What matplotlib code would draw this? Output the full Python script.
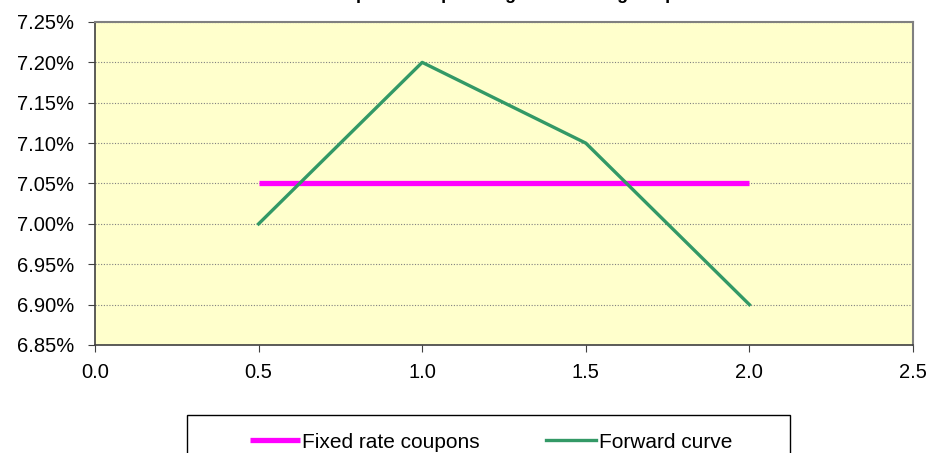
import matplotlib.pyplot as plt
from matplotlib.patches import Rectangle
from matplotlib.ticker import FuncFormatter, MultipleLocator

plt.rcParams['font.family'] = ['Liberation Sans', 'DejaVu Sans']

# Payment times (years) and rates (%)
times = [0.5, 1.0, 1.5, 2.0]
fixed_rate = [7.05, 7.05, 7.05, 7.05]
forward_curve = [7.00, 7.20, 7.10, 6.90]

fig = plt.figure(figsize=(9.33, 4.53), dpi=100)
ax = fig.add_axes([95 / 933, 1 - 345 / 453, 818 / 933, 323 / 453])
ax.set_facecolor('#FFFFCC')

ax.plot(times, fixed_rate, color='#FF00FF', linewidth=3.8, label='Fixed rate coupons',
        solid_capstyle='butt', zorder=3)
ax.plot(times, forward_curve, color='#339966', linewidth=2.4, label='Forward curve', zorder=3)

ax.set_xlim(0, 2.5)
ax.set_ylim(6.85, 7.25)
ax.xaxis.set_major_locator(MultipleLocator(0.5))
ax.yaxis.set_major_locator(MultipleLocator(0.05))
ax.xaxis.set_major_formatter(FuncFormatter(lambda v, p: f'{v:.1f}'))
ax.yaxis.set_major_formatter(FuncFormatter(lambda v, p: f'{v:.2f}%'))
ax.tick_params(labelsize=14.5, length=5, color='#404040')
ax.tick_params(axis='y', pad=10)
ax.tick_params(axis='x', pad=8)
ax.grid(axis='y', color='#808080', linestyle=(0, (1, 1.5)), linewidth=0.8)

for side in ['top', 'right']:
    ax.spines[side].set_color('#808080')
    ax.spines[side].set_linewidth(1.5)
for side in ['left', 'bottom']:
    ax.spines[side].set_color('#404040')
    ax.spines[side].set_linewidth(1.2)

fig.text(0.525, 1.012, 'Fixed coupons compared against floating coupons',
         ha='center', va='center', fontsize=13, fontweight='bold')

# legend box running off the bottom edge
fig.patches.append(Rectangle((187 / 933, -0.05), 603 / 933, 0.05 + 38 / 453,
                             transform=fig.transFigure, facecolor='white',
                             edgecolor='black', linewidth=1))
fig.legend(loc='center', bbox_to_anchor=(491 / 933, 1 - 442 / 453), ncol=2,
           frameon=False, fontsize=15, handlelength=2.4, handletextpad=0.12,
           columnspacing=3.2)

fig.savefig('out.png', dpi=100)
